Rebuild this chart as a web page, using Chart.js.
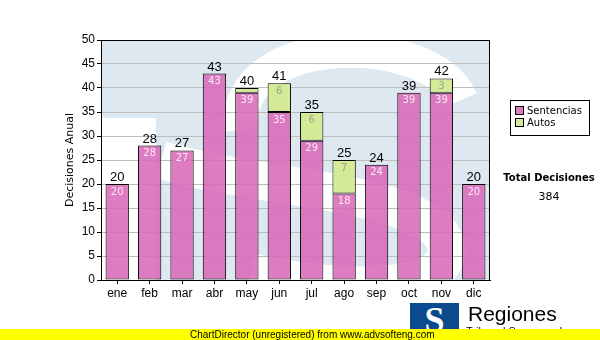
<!DOCTYPE html>
<html>
<head>
<meta charset="utf-8">
<script src="https://cdn.jsdelivr.net/npm/chart.js@4/dist/chart.umd.min.js"></script>
<style>
  body { margin: 0; background: #fff; font-family: "Liberation Sans", Arial, sans-serif; }
  #wrap { position: relative; width: 600px; height: 340px; overflow: hidden; }
  #wrap canvas { position: absolute; left: 0; top: 0; }
  .legend { position: absolute; left: 510px; top: 100px; width: 80px; height: 36px; border: 1px solid #000; box-sizing: border-box; font-family: Verdana, "DejaVu Sans", sans-serif; font-size: 10px; padding: 4px 0 0 4px; }
  .legend div { height: 12px; line-height: 12px; }
  .legend span { display: inline-block; width: 7px; height: 7px; border: 1px solid #000; margin-right: 3px; vertical-align: -1px; }
  .total { position: absolute; left: 498px; width: 102px; text-align: center; font-family: Verdana, "DejaVu Sans", sans-serif; font-size: 10px; }
  .logo { position: absolute; left: 410px; top: 303px; width: 49px; height: 30px; background: #0b4a8e; color: #fff; font: bold 36px "Liberation Serif", serif; text-align: center; line-height: 34px; overflow: hidden; }
  .reg { position: absolute; left: 468px; top: 302px; font-size: 21px; color: #000; }
  .reg2 { position: absolute; left: 466px; top: 325px; font-size: 11px; color: #000; }
  .bar { position: absolute; left: 0; top: 329px; width: 600px; height: 11px; background: #ffff00; font-size: 10px; line-height: 11px; }
  .bar span { position: absolute; left: 190px; }
</style>
</head>
<body>
<div id="wrap">
  <canvas id="decisionesChart" width="600" height="340"></canvas>
  <div class="legend">
    <div><span style="background:#dc7cbd"></span>Sentencias</div>
    <div><span style="background:#d5ea96"></span>Autos</div>
  </div>
  <div class="total" style="top:172px;font-weight:bold">Total Decisiones</div>
  <div class="total" style="top:190px;font-size:11px">384</div>
  <div class="logo">S</div>
  <div class="reg">Regiones</div>
  <div class="reg2">Tribunal Supremo de Justicia</div>
  <div class="bar"><span>ChartDirector (unregistered) from www.advsofteng.com</span></div>
</div>
<script>
const months = ['ene', 'feb', 'mar', 'abr', 'may', 'jun', 'jul', 'ago', 'sep', 'oct', 'nov', 'dic'];
const sentencias = [20, 28, 27, 43, 39, 35, 29, 18, 24, 39, 39, 20];
const autos = [0, 0, 0, 0, 1, 6, 6, 7, 0, 0, 3, 0];
const yTicks = [0, 5, 10, 15, 20, 25, 30, 35, 40, 45, 50];

const totals = sentencias.map((v, i) => v + autos[i]);

// light blue watermark with a white "S" behind the bars
const watermark = {
    id: 'watermark',
    beforeDraw(chart) {
        const { ctx, chartArea: a } = chart;
        ctx.save();
        ctx.beginPath();
        ctx.rect(a.left, a.top, a.right - a.left, a.bottom - a.top);
        ctx.clip();
        ctx.fillStyle = '#dee8f1';
        ctx.fillRect(a.left, a.top, a.right - a.left, a.bottom - a.top);
        ctx.fillStyle = '#fff';
        ctx.fillRect(a.left, a.top + 78, 55, a.bottom - a.top - 78);
        ctx.strokeStyle = '#fff';
        ctx.lineCap = 'butt';
        ctx.lineWidth = 34;
        ctx.beginPath();
        ctx.moveTo(a.left + 140, a.top + 90);
        ctx.bezierCurveTo(a.left + 130, a.top - 10, a.left + 330, a.top - 10, a.left + 360, a.top + 60);
        ctx.stroke();
        ctx.lineWidth = 38;
        ctx.beginPath();
        ctx.moveTo(a.left + 60, a.top + 120);
        ctx.bezierCurveTo(a.left + 160, a.top + 150, a.left + 330, a.top + 150, a.left + 345, a.top + 205);
        ctx.bezierCurveTo(a.left + 355, a.top + 250, a.left + 250, a.top + 255, a.left + 150, a.top + 232);
        ctx.stroke();
        ctx.restore();
    },
    afterDraw(chart) {
        const { ctx, chartArea: a } = chart;
        ctx.save();
        ctx.strokeStyle = '#000';
        ctx.lineWidth = 1;
        ctx.strokeRect(a.left + 0.5, a.top + 0.5, a.right - a.left - 1, a.bottom - a.top);
        ctx.restore();
    }
};

// value labels: totals above each stack, segment values inside
const valueLabels = {
    id: 'valueLabels',
    afterDatasetsDraw(chart) {
        const ctx = chart.ctx;
        const m0 = chart.getDatasetMeta(0);
        const m1 = chart.getDatasetMeta(1);
        ctx.save();
        ctx.textAlign = 'center';
        ctx.font = '10px Verdana, "DejaVu Sans", sans-serif';
        m0.data.forEach((bar, i) => {
            if (bar.base - bar.y > 12) {
                ctx.fillStyle = '#fbe6f4';
                ctx.textBaseline = 'top';
                ctx.fillText(sentencias[i], bar.x, bar.y + 3);
            }
        });
        m1.data.forEach((bar, i) => {
            if (autos[i] && bar.base - bar.y > 12) {
                ctx.fillStyle = '#9aa58a';
                ctx.textBaseline = 'top';
                ctx.fillText(autos[i], bar.x, bar.y + 3);
            }
        });
        ctx.font = '13px "Liberation Sans", Arial, sans-serif';
        ctx.fillStyle = '#000';
        ctx.textBaseline = 'bottom';
        m1.data.forEach((bar, i) => {
            const top = Math.min(bar.y, m0.data[i].y);
            ctx.fillText(totals[i], bar.x, top);
        });
        ctx.restore();
    }
};

const ctx = document.getElementById('decisionesChart').getContext('2d');
const decisionesChart = new Chart(ctx, {
    type: 'bar',
    data: {
        labels: months,
        datasets: [{
            label: 'Sentencias',
            data: sentencias,
            backgroundColor: 'rgba(216,106,184,0.88)',
            borderColor: '#000',
            borderWidth: 1,
            borderSkipped: false,
            barPercentage: 0.72,
            categoryPercentage: 1
        }, {
            label: 'Autos',
            data: autos,
            backgroundColor: '#d5ea96',
            borderColor: '#000',
            borderWidth: 1,
            borderSkipped: false,
            barPercentage: 0.72,
            categoryPercentage: 1
        }]
    },
    options: {
        responsive: false,
        animation: false,
        layout: { padding: { left: 64, top: 40, right: 110, bottom: 40 } },
        plugins: {
            legend: { display: false },
            tooltip: { enabled: false }
        },
        scales: {
            x: {
                stacked: true,
                grid: { display: true, drawOnChartArea: false, offset: false, tickLength: 4, tickColor: '#000' },
                border: { color: '#000' },
                ticks: { color: '#000', padding: 2, font: { size: 12, family: '"Liberation Sans", Arial, sans-serif' } },
                afterFit(scale) { scale.height = 20; }
            },
            y: {
                stacked: true,
                min: 0,
                max: 50,
                afterBuildTicks(scale) { scale.ticks = yTicks.map(v => ({ value: v })); },
                grid: { color: '#bdbdbd', tickLength: 4, tickColor: '#000' },
                border: { color: '#000' },
                ticks: { color: '#000', padding: 2, font: { size: 12, family: '"Liberation Sans", Arial, sans-serif' } },
                title: {
                    display: true,
                    text: 'Decisiones Anual',
                    color: '#000',
                    padding: { top: 0, bottom: 4 },
                    font: { size: 11, family: 'Verdana, "DejaVu Sans", sans-serif' }
                },
                afterFit(scale) { scale.width = 37; }
            }
        }
    },
    plugins: [watermark, valueLabels]
});
</script>
</body>
</html>
